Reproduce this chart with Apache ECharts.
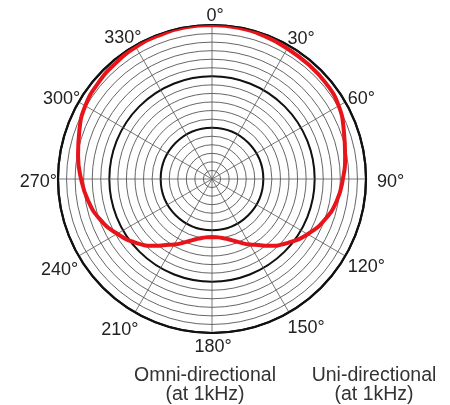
<!DOCTYPE html>
<html>
<head>
<meta charset="utf-8">
<script src="https://cdn.jsdelivr.net/npm/echarts@6/dist/echarts.min.js"></script>
<style>html,body{margin:0;padding:0;background:#fff}#c{width:450px;height:405px}</style>
</head>
<body>
<div id="c"></div>
<script>
// angles (degrees, clockwise from top)
var angles = [0,10,20,30,40,50,60,70,80,90,100,110,120,130,140,145,150,155,160,165,170,175,180,185,190,195,200,205,210,215,220,230,240,250,260,270,280,290,300,310,320,330,340,350,360];
// response radius in ring units (18 rings to the outer circle)
var response = [18.0,17.95,17.8,17.6,17.5,17.4,17.1,16.4,15.8,15.3,14.8,14.0,12.9,11.6,10.2,9.42,8.84,8.26,7.71,7.29,7.0,6.84,6.78,6.84,7.0,7.29,7.71,8.26,8.84,9.42,10.2,11.6,12.8,13.9,14.7,15.3,15.9,16.5,17.1,17.4,17.6,17.8,17.9,18.0,18.0];
var angleTicks = ['0°','30°','60°','90°','120°','150°','180°','210°','240°','270°','300°','330°'];
var captions = ['Omni-directional\n(at 1kHz)','Uni-directional\n(at 1kHz)'];

// small per-label nudges [dx, dy] (style only)
var nudge = [[3,5],[-4,7],[-2,9],[6,3],[-2,0],[-4,2],[1,0],[6,4],[4,3],[4,3],[6,9],[9,6]];
var rich = {};
nudge.forEach(function(n,i){
  rich['l'+i] = {padding:[n[1], -n[0], -n[1], n[0]], fontSize:18, color:'#222', fontFamily:'Liberation Sans, Arial, sans-serif'};
});

var seriesData = angles.map(function(a,i){return [response[i], a];});
var chart = echarts.init(document.getElementById('c'), null, {renderer:'canvas'});
var font = 'Liberation Sans, Arial, sans-serif';
chart.setOption({
  animation:false,
  backgroundColor:'#fff',
  polar:[{center:[212,179], radius:154},{center:[212,179], radius:154}],
  angleAxis:[{
    polarIndex:0, type:'value', min:0, max:360, interval:30, startAngle:90, clockwise:true,
    axisLine:{show:true, lineStyle:{color:'#111', width:2.2}},
    axisTick:{show:false},
    splitLine:{show:true, lineStyle:{color:'#555', width:0.8}},
    axisLabel:{show:true, margin:5, color:'#222', fontSize:18, fontFamily:font,
      showMaxLabel:false, rich:rich,
      formatter:function(v){var i=Math.round(v/30); return i<angleTicks.length?('{l'+i+'|'+angleTicks[i]+'}'):'';}}
  },{
    polarIndex:1, type:'value', min:0, max:360, interval:30, startAngle:90,
    axisLine:{show:false}, axisTick:{show:false}, axisLabel:{show:false}, splitLine:{show:false}
  }],
  radiusAxis:[{
    polarIndex:0, type:'value', min:0, max:18, interval:1,
    axisLine:{show:false}, axisTick:{show:false}, axisLabel:{show:false},
    splitLine:{show:true, lineStyle:{color:'#555', width:0.9}}
  },{
    polarIndex:1, type:'value', min:0, max:18, interval:6,
    axisLine:{show:false}, axisTick:{show:false}, axisLabel:{show:false},
    splitLine:{show:true, lineStyle:{color:'#111', width:2}}
  }],
  series:[{
    type:'line', coordinateSystem:'polar', polarIndex:0, data:seriesData,
    smooth:0.5, showSymbol:false, symbol:'none', z:10,
    lineStyle:{color:'#e8141b', width:4}
  }],
  graphic:[
    {type:'text', x:0, y:0, style:{text:captions[0], x:205, y:366, textAlign:'center', fill:'#333', font:'19.5px '+font, lineHeight:19}},
    {type:'text', x:0, y:0, style:{text:captions[1], x:374, y:366, textAlign:'center', fill:'#333', font:'19.5px '+font, lineHeight:19}}
  ]
});
</script>
</body>
</html>
